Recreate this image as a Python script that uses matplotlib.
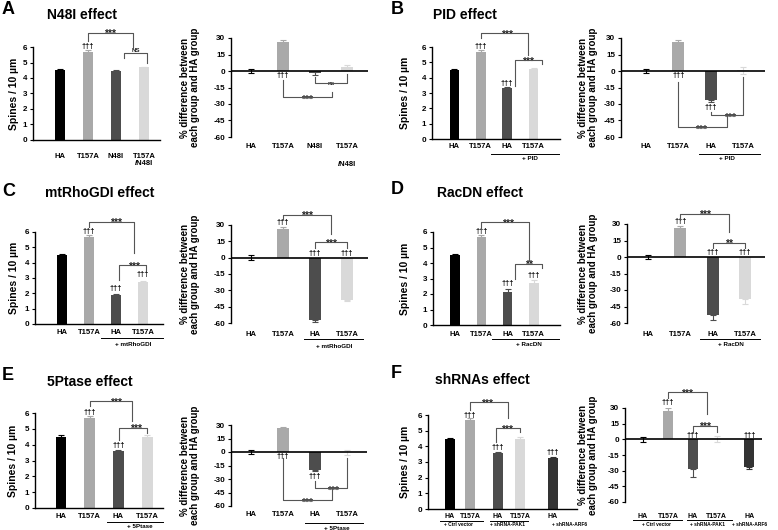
import matplotlib.pyplot as plt

plt.rcParams['font.family'] = ['Liberation Sans', 'DejaVu Sans']
plt.rcParams['font.weight'] = 'bold'
plt.rcParams['axes.unicode_minus'] = False

W, H = 778, 530

# x labels
labels_A = ['HA', 'T157A', 'N48I', 'T157A']
labels_4 = ['HA', 'T157A', 'HA', 'T157A']
labels_F = ['HA', 'T157A', 'HA', 'T157A', 'HA']

# spines / 10 um (mean, error) and % difference vs HA (mean, error)
spines_A = [4.50, 5.70, 4.42, 4.68]
spines_A_err = [0.08, 0.08, 0.08, 0.05]
diff_A = [0.0, 26.5, -2.0, 4.0]
diff_A_err = [2.0, 1.5, 1.5, 1.2]

spines_B = [4.50, 5.70, 3.30, 4.55]
spines_B_err = [0.08, 0.08, 0.10, 0.10]
diff_B = [0.0, 26.5, -26.5, 0.5]
diff_B_err = [2.0, 1.5, 2.0, 3.0]

spines_C = [4.50, 5.70, 1.90, 2.75]
spines_C_err = [0.08, 0.10, 0.06, 0.08]
diff_C = [0.0, 26.5, -57.5, -39.0]
diff_C_err = [2.0, 1.5, 1.2, 1.2]

spines_D = [4.50, 5.70, 2.10, 2.72]
spines_D_err = [0.08, 0.08, 0.22, 0.18]
diff_D = [0.0, 26.5, -53.0, -38.5]
diff_D_err = [2.0, 1.5, 4.5, 4.0]

spines_E = [4.50, 5.70, 3.60, 4.48]
spines_E_err = [0.08, 0.08, 0.08, 0.10]
diff_E = [0.0, 26.5, -20.0, -0.5]
diff_E_err = [2.0, 1.5, 1.5, 2.5]

spines_F = [4.45, 5.68, 3.55, 4.48, 3.25]
spines_F_err = [0.10, 0.12, 0.12, 0.10, 0.10]
diff_F = [0.0, 27.5, -28.5, 0.5, -26.5]
diff_F_err = [2.5, 2.5, 8.0, 3.0, 1.5]

colors = ['#000000', '#a9a9a9', '#4d4d4d', '#d9d9d9', '#333333']

fig = plt.figure(figsize=(W / 100, H / 100), dpi=100)


def add_ax(x0, x1, ytop, ybot):
    return fig.add_axes([x0 / W, 1 - ybot / H, (x1 - x0) / W, (ybot - ytop) / H])


def draw_bars(ax, xs, vals, errs, width):
    for x, v, e, c in zip(xs, vals, errs, colors):
        ax.bar(x, v, width, color=c, zorder=2)
        if abs(v) < 3:
            yerr = [[e], [e]]
        elif v > 0:
            yerr = [[0], [e]]
        else:
            yerr = [[e], [0]]
        ax.errorbar(x, v, yerr=yerr, fmt='none', ecolor=c, elinewidth=0.8,
                    capsize=2, capthick=0.8, zorder=3)


def spine_plot(rect, xs, xlim, vals, errs, width=0.37):
    ax = add_ax(*rect)
    draw_bars(ax, xs, vals, errs, width)
    ax.set_xlim(*xlim)
    ax.set_ylim(0, 6)
    ax.set_yticks(range(7))
    ax.set_xticks([])
    ax.spines[['top', 'right']].set_visible(False)
    ax.spines[['left', 'bottom']].set_linewidth(1.0)
    ax.tick_params(axis='y', labelsize=5.8, length=2.5, width=0.8, pad=1.5)
    return ax


def diff_plot(rect, xs, xlim, vals, errs, width=0.375):
    ax = add_ax(*rect)
    draw_bars(ax, xs, vals, errs, width)
    ax.axhline(0, color='k', lw=1.2, zorder=4)
    ax.set_xlim(*xlim)
    ax.set_ylim(-60, 30)
    ax.set_yticks(range(-60, 31, 15))
    ax.set_xticks([])
    ax.spines[['top', 'right', 'bottom']].set_visible(False)
    ax.spines['left'].set_linewidth(1.0)
    ax.tick_params(axis='y', labelsize=5.8, length=2.5, width=0.8, pad=1.5)
    return ax


def under(ax, x, s, dy, size=5.5):
    h = ax.get_position().height * H
    ax.text(x, -dy / h, s, transform=ax.get_xaxis_transform(), ha='center',
            va='center', fontsize=size)


def xlabels(ax, xs, labels, dy, size=5.5):
    for x, s in zip(xs, labels):
        under(ax, x, s, dy, size)


def underline(ax, xa, xb, dy):
    h = ax.get_position().height * H
    ax.plot([xa, xb], [-dy / h] * 2, transform=ax.get_xaxis_transform(),
            color='k', lw=0.7, clip_on=False)


def dagger(ax, x, y):
    ax.text(x, y, '†††', ha='center', va='center', fontsize=5.5, zorder=5)


def bracket(ax, xa, xb, y, ya, yb, s, tx, above=True, size=7.5):
    ax.plot([xa, xa, xb, xb], [ya, y, y, yb], color='#555555', lw=0.8,
            clip_on=False, zorder=5)
    if above:
        if s.startswith('*'):
            off, va = -3, 'baseline'
        else:
            off, va = 0.5, 'bottom'
    else:
        off, va = 1.5, 'top'
    ax.annotate(s, (tx, y), xytext=(0, off), textcoords='offset points',
                ha='center', va=va, fontsize=size, color='#222222',
                annotation_clip=False)


def left_label(x, ytop, ybot):
    fig.text(x / W, 1 - (ytop + ybot) / 2 / H, 'Spines / 10 µm', rotation=90,
             ha='center', va='center', fontsize=7.5)


def right_label(x, ytop, ybot):
    fig.text(x / W, 1 - (ytop + ybot) / 2 / H,
             '% difference between\neach group and HA group', rotation=90,
             ha='center', va='center', fontsize=7, linespacing=1.0)


def head(letter, lx, ly, title, tx, ty):
    fig.text(lx / W, 1 - ly / H, letter, fontsize=13, ha='left', va='center')
    fig.text(tx / W, 1 - ty / H, title, fontsize=10, ha='left', va='center')


x4 = [0, 1, 2, 3]

# ---------------- A ----------------
head('A', 2, 9, 'N48I effect', 47, 15)
ax = spine_plot((33, 160, 47, 140), x4, (-0.96, 3.57), spines_A, spines_A_err)
xlabels(ax, x4, labels_A, 17)
under(ax, 3, '/N48I', 24)
dagger(ax, 1, 6.05)
bracket(ax, 1, 2.6, 6.9, 6.4, 5.85, '***', 1.8)
bracket(ax, 2.3, 3.1, 5.6, 5.3, 5.0, 'NS', 2.7, size=4.5)
left_label(14, 47, 140)

ax = diff_plot((231, 368, 38, 137), x4, (-0.63, 3.66), diff_A, diff_A_err)
xlabels(ax, x4, labels_A, 10)
under(ax, 3, '/N48I', 27)
dagger(ax, 1, -4.5)
bracket(ax, 1, 2.53, -23.6, -8, -19, '***', 1.75, above=False)
bracket(ax, 2, 3, -11, -5.5, -3, 'ns', 2.5, above=False, size=4.5)
right_label(190, 38, 137)

# ---------------- B ----------------
head('B', 391, 9, 'PID effect', 433, 15)
ax = spine_plot((432, 560, 47, 139), x4, (-0.85, 4.0), spines_B, spines_B_err)
xlabels(ax, x4, labels_4, 8)
underline(ax, 1.38, 3.95, 15)
under(ax, 2.85, '+ PID', 20, 4.5)
dagger(ax, 1, 6.05)
dagger(ax, 2, 3.62)
bracket(ax, 1, 2.8, 6.9, 6.6, 5.45, '***', 2.0)
bracket(ax, 2.3, 3.3, 5.14, 3.45, 4.92, '***', 2.8)
left_label(405, 47, 139)

ax = diff_plot((621, 765, 38, 137), x4, (-0.77, 3.68), diff_B, diff_B_err)
xlabels(ax, x4, labels_4, 10)
underline(ax, 1.63, 3.53, 17)
under(ax, 2.5, '+ PID', 22, 4.5)
dagger(ax, 1, -4.5)
dagger(ax, 2, -33)
bracket(ax, 1, 2.5, -51, -10, -40, '***', 1.7, above=False)
bracket(ax, 2, 3, -40, -37, -5.5, '***', 2.6, above=False)
right_label(588, 38, 137)

# ---------------- C ----------------
head('C', 2, 191, 'mtRhoGDI effect', 45, 193)
ax = spine_plot((35, 163, 232, 324), x4, (-1.0, 3.74), spines_C, spines_C_err)
xlabels(ax, x4, labels_4, 8)
underline(ax, 1.44, 3.74, 14)
under(ax, 2.65, '+ mtRhoGDI', 20, 4.5)
dagger(ax, 1, 6.05)
dagger(ax, 2, 2.3)
dagger(ax, 3, 3.2)
bracket(ax, 1, 2.65, 6.65, 6.3, 4.6, '***', 2.0)
bracket(ax, 2.1, 3.1, 3.83, 2.86, 3.55, '***', 2.65)
left_label(14, 232, 324)

ax = diff_plot((231, 368, 225, 323), x4, (-0.63, 3.66), diff_C, diff_C_err)
xlabels(ax, x4, labels_4, 11)
underline(ax, 1.65, 3.5, 16)
under(ax, 2.6, '+ mtRhoGDI', 23, 4.5)
dagger(ax, 1, 32.5)
dagger(ax, 2, 4)
dagger(ax, 3, 4)
bracket(ax, 1, 2.5, 39.5, 35.5, 22, '***', 1.75)
bracket(ax, 2, 3, 14, 9, 9, '***', 2.5)
right_label(190, 225, 323)

# ---------------- D ----------------
head('D', 391, 190, 'RacDN effect', 437, 193)
ax = spine_plot((433, 560, 232, 325), x4, (-0.85, 4.0), spines_D, spines_D_err)
xlabels(ax, x4, labels_4, 9)
underline(ax, 1.4, 3.95, 14)
under(ax, 2.8, '+ RacDN', 19, 4.5)
dagger(ax, 1, 6.05)
dagger(ax, 2, 2.65)
dagger(ax, 3, 3.22)
bracket(ax, 1, 2.8, 6.63, 6.2, 4.2, '***', 2.0)
bracket(ax, 2.3, 3.3, 3.93, 2.95, 3.65, '**', 2.8)
left_label(405, 232, 325)

ax = diff_plot((627, 765, 224, 323), x4, (-0.65, 3.62), diff_D, diff_D_err)
xlabels(ax, x4, labels_4, 11)
underline(ax, 1.6, 3.47, 16)
under(ax, 2.55, '+ RacDN', 22, 4.5)
dagger(ax, 1, 32.5)
dagger(ax, 2, 4)
dagger(ax, 3, 4)
bracket(ax, 1, 2.5, 39, 34, 23, '***', 1.75)
bracket(ax, 2, 3, 13, 8.5, 8.5, '**', 2.5)
right_label(588, 224, 323)

# ---------------- E ----------------
head('E', 2, 375, '5Ptase effect', 47, 382)
ax = spine_plot((35, 163, 413, 508), x4, (-0.9, 3.55), spines_E, spines_E_err)
xlabels(ax, x4, labels_4, 9)
underline(ax, 1.59, 3.55, 14)
under(ax, 2.75, '+ 5Ptase', 19, 4.5)
dagger(ax, 1, 6.05)
dagger(ax, 2, 3.95)
bracket(ax, 1, 2.48, 6.74, 6.46, 5.47, '***', 1.9)
bracket(ax, 2.02, 3.0, 5.05, 4.3, 4.75, '***', 2.6)
left_label(13, 413, 508)

ax = diff_plot((231, 367, 425, 506), x4, (-0.63, 3.63), diff_E, diff_E_err)
xlabels(ax, x4, labels_4, 8)
underline(ax, 1.7, 3.5, 17)
under(ax, 2.7, '+ 5Ptase', 22, 4.5)
dagger(ax, 1, -5)
dagger(ax, 2, -27)
bracket(ax, 1, 2.53, -53, -7, -41, '***', 1.75, above=False)
bracket(ax, 2, 3, -40, -32, -7, '***', 2.55, above=False)
right_label(190, 425, 506)

# ---------------- F ----------------
xF_left = [0, 0.8, 1.9, 2.8, 4.1]
xF_right = [0, 1, 2, 2.95, 4.25]
head('F', 391, 373, 'shRNAs effect', 435, 380)
ax = spine_plot((428, 577, 415, 509), xF_left, (-0.88, 5.08), spines_F, spines_F_err, 0.4)
xlabels(ax, xF_left, labels_F, 7, 5)
underline(ax, -0.4, 1.32, 12)
underline(ax, 1.6, 3.12, 12)
under(ax, 0.36, '+ Ctrl vector', 15, 3.5)
under(ax, 2.32, '+ shRNA-PAK1', 15, 3.5)
under(ax, 4.8, '+ shRNA-ARF6', 15, 3.5)
dagger(ax, 0.8, 6.0)
dagger(ax, 1.9, 3.95)
dagger(ax, 4.1, 3.6)
bracket(ax, 0.8, 2.32, 6.8, 6.3, 5.8, '***', 1.5)
bracket(ax, 1.85, 2.8, 5.15, 4.3, 4.9, '***', 2.3)
left_label(405, 415, 509)

ax = diff_plot((625, 762, 408, 502), xF_right, (-0.72, 4.76), diff_F, diff_F_err, 0.4)
xlabels(ax, xF_right, labels_F, 14, 5)
underline(ax, -0.4, 1.56, 18)
underline(ax, 1.76, 3.56, 18)
under(ax, 0.56, '+ Ctrl vector', 22, 3.5)
under(ax, 2.6, '+ shRNA-PAK1', 22, 3.5)
under(ax, 4.25, '+ shRNA-ARF6', 22, 3.5)
dagger(ax, 1, 35)
dagger(ax, 2, 4)
dagger(ax, 4.25, 4)
bracket(ax, 1, 2.56, 45, 40, 24, '***', 1.76)
bracket(ax, 2, 2.95, 13, 7, 7, '***', 2.5)
right_label(588, 408, 502)

fig.savefig('out.png', dpi=100)
